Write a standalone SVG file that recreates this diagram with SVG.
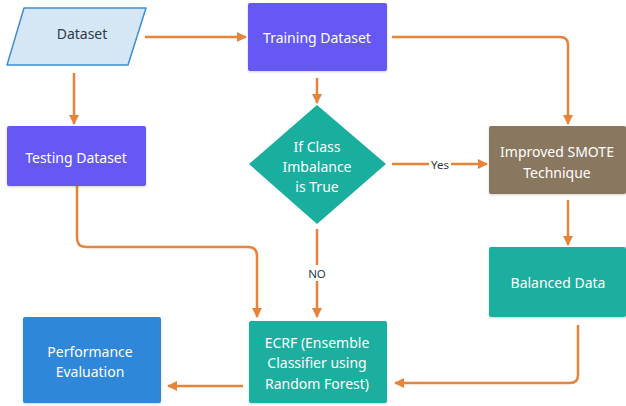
<svg xmlns="http://www.w3.org/2000/svg" width="626" height="406" viewBox="0 0 626 406">
<defs>
<marker id="ah" viewBox="0 0 10 10" refX="9" refY="5" markerWidth="4" markerHeight="4" orient="auto" markerUnits="strokeWidth">
<path d="M0,0 L10,5 L0,10 z" fill="#e8833a"/>
</marker>
<filter id="sh" x="-10%" y="-10%" width="120%" height="130%">
<feDropShadow dx="0" dy="1" stdDeviation="1" flood-color="#000" flood-opacity="0.18"/>
</filter>
</defs>
<style>
.t{font-family:"Noto Sans","Open Sans",sans-serif;font-size:14px;fill:#ffffff;text-anchor:middle;dominant-baseline:central}
.d{fill:#2e3a48}
.l{font-size:11.5px}
.c{fill:none;stroke:#e8833a;stroke-width:2.5;marker-end:url(#ah)}
</style>
<rect width="626" height="406" fill="#ffffff"/>
<g id="connectors">
<path class="c" d="M145,37 H246"/>
<path class="c" d="M74,73 V124"/>
<path class="c" d="M317,78 V103"/>
<path class="c" d="M392,37 H560 Q568,37 568,45 V124"/>
<path class="c" d="M392,164 H487"/>
<path class="c" d="M568,200 V245"/>
<path class="c" d="M578,325 V375 Q578,383 570,383 H395"/>
<path class="c" d="M317,229 V317"/>
<path class="c" d="M77,186 V238 Q77,247 86,247 H248 Q257,247 257,256 V317"/>
<path class="c" d="M243,386 H168"/>
<rect x="429" y="156" width="22" height="16" fill="#ffffff"/>
<text class="t d l" x="440" y="164">Yes</text>
<rect x="306" y="265" width="22" height="16" fill="#ffffff"/>
<text class="t d l" x="317" y="273">NO</text>
</g>
<g id="dataset">
<polygon points="24,8 146,8 128,65 7,65" fill="#d5e6f5" stroke="#3b8fd6" stroke-width="1.5" stroke-linejoin="round"/>
<text class="t d" x="82" y="33">Dataset</text>
</g>
<g id="training">
<rect x="248" y="3" width="139" height="68" rx="2" fill="#6559f5" filter="url(#sh)"/>
<text class="t" x="317" y="37">Training Dataset</text>
</g>
<g id="testing">
<rect x="7" y="126" width="139" height="60" rx="2" fill="#6559f5" filter="url(#sh)"/>
<text class="t" x="76" y="157">Testing Dataset</text>
</g>
<g id="decision">
<polygon points="317,105 386,164 317,224 249,164" fill="#1aae9f"/>
<text class="t" x="317" y="146">If Class</text>
<text class="t" x="317" y="166">Imbalance</text>
<text class="t" x="317" y="186">is True</text>
</g>
<g id="smote">
<rect x="489" y="126" width="137" height="68" rx="2" fill="#8a7760" filter="url(#sh)"/>
<text class="t" x="557" y="151">Improved SMOTE</text>
<text class="t" x="557" y="172">Technique</text>
</g>
<g id="balanced">
<rect x="489" y="247" width="137" height="70" rx="2" fill="#1aae9f" filter="url(#sh)"/>
<text class="t" x="558" y="282">Balanced Data</text>
</g>
<g id="ecrf">
<rect x="249" y="321" width="138" height="82" rx="2" fill="#1aae9f" filter="url(#sh)"/>
<text class="t" x="317" y="342">ECRF (Ensemble</text>
<text class="t" x="317" y="362">Classifier using</text>
<text class="t" x="317" y="383">Random Forest)</text>
</g>
<g id="performance">
<rect x="23" y="317" width="138" height="86" rx="2" fill="#2d87d9" filter="url(#sh)"/>
<text class="t" x="90" y="351">Performance</text>
<text class="t" x="90" y="371">Evaluation</text>
</g>
</svg>
